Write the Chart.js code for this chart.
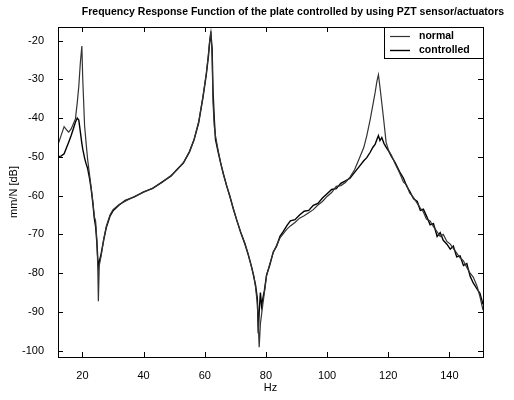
<!DOCTYPE html>
<html>
<head>
<meta charset="utf-8">
<script src="https://cdn.jsdelivr.net/npm/chart.js@4"></script>
<style>
  html, body { margin: 0; padding: 0; background: #fff; }
  #wrap { width: 514px; height: 400px; }
</style>
</head>
<body>
<div id="wrap"><canvas id="frfChart" width="514" height="400"></canvas></div>
<script>
// frequency (Hz)
const freq = [12, 13, 14, 15, 15.5, 16.3, 17, 17.7, 18.3, 18.8, 19.3, 19.8, 20.1, 20.7, 21.2, 21.7, 22.3, 22.8, 23.4, 23.9,
  24.3, 24.7, 25.0, 25.2, 25.5, 26.1, 27, 27.8, 29, 30, 32, 34, 37, 40, 43, 46, 49, 51, 53, 55,
  56.5, 58, 59.4, 60.5, 61.2, 61.6, 62, 62.4, 62.7, 63.1, 63.5, 64.4, 65.2, 66.1, 67.2, 68.2, 69.3, 70.4, 71.7, 73.1,
  74.2, 75.3, 76, 76.6, 77.2, 77.5, 77.8, 78.2, 78.6, 79, 79.5, 80.2, 81.3, 82.4, 83.5, 84.6, 85.7, 86.8, 88, 89.5,
  91, 92.5, 94, 95.5, 97, 98.5, 100, 101.5, 103, 104.5, 106, 107.5, 109, 110.5, 112, 113, 114.1, 115, 115.7, 116.3,
  116.8, 117.3, 117.9, 118.6, 119.3, 120.2, 121, 122.3, 123.7, 125, 126, 127, 128.3, 129.5, 130.5, 131.5, 132.5, 133.7, 134.8, 136,
  137, 138, 139.2, 140.3, 141.3, 142.4, 143.5, 144.6, 145.7, 146.8, 147.8, 149, 150, 151];

// mm/N [dB]
const normal = [-46.8, -44.5, -42.2, -43.2, -43.6, -42.8, -41.5, -40.2, -36, -31.8, -25.8, -21.4, -30, -42, -46.5, -50.7, -54.5, -57.6, -61.5, -65.5,
  -66.5, -71.3, -78, -87.2, -78, -75.6, -71, -67.9, -65, -63.6, -62.3, -61.4, -60.2, -59.1, -58, -56.6, -54.8, -53.3, -51.5, -48.6,
  -45.5, -41, -34.5, -28.5, -23.5, -20, -17.6, -24, -36, -42, -44.5, -48.5, -51.5, -54.5, -57.5, -60.2, -63.2, -66.2, -69.2, -72.2,
  -75, -78.5, -80.5, -83.5, -88, -93, -99.1, -93, -90.5, -88, -85, -80.7, -77.5, -74.7, -72.8, -70.9, -69.8, -68.7, -67.8, -66.9,
  -65.8, -65.2, -64.4, -63.6, -62.4, -61.5, -60.2, -59.2, -57.6, -57.4, -56.6, -55.2, -53.3, -50.5, -47.6, -44.5, -40.4, -36.5, -33.5, -30.5,
  -28.8, -32, -36.1, -41, -46.2, -48.5, -49.5, -51.8, -54.1, -56.5, -57.2, -59.3, -60.5, -62, -63.2, -64.2, -66, -66.5, -68, -69.3,
  -70.5, -70, -71.8, -72.5, -73.6, -74.8, -76, -76.8, -78.5, -80, -81, -83.2, -86, -89.5];

const controlled = [-49.9, -49.8, -49.2, -47.2, -46.2, -44.5, -42.8, -41, -40, -40.5, -43.5, -46.5, -48, -50.3, -51.8, -53, -55.5, -58, -62, -66,
  -68, -72, -76, -78.5, -77, -75, -71.2, -68.2, -65.3, -63.9, -62.4, -61.2, -60.3, -59, -58.1, -56.5, -54.9, -53.2, -51.6, -48.7,
  -45.6, -41.2, -34.7, -28.8, -24, -20.5, -18.2, -22, -33, -40, -45.5, -48.8, -51.6, -54.4, -57.6, -60.1, -63.3, -66.1, -69.4, -72.4,
  -75.2, -78.3, -80.8, -83, -86.5, -95.5, -90, -85, -88.5, -86.5, -84.5, -80.5, -77.8, -74.5, -73, -70.5, -69.2, -67.8, -66.5, -66.2,
  -65, -64, -63.8, -62.5, -62, -60.6, -59.5, -58.4, -58.2, -56.8, -56.2, -55.5, -54, -52.5, -51, -50.2, -48.8, -47.5, -46.8, -45.5,
  -44.5, -45.8, -45, -46.5, -47.5, -48.6, -49.8, -51.5, -53.8, -55.5, -57.5, -58.8, -60.8, -61.5, -63.8, -63.5, -65.2, -67.5, -67.2, -70.5,
  -69.5, -71.5, -72.5, -73.8, -73, -75.8, -75.5, -78, -77.5, -80.8, -82.5, -84, -85.2, -88];

const xTicks = [20, 40, 60, 80, 100, 120, 140];
const yTicks = [-100, -90, -80, -70, -60, -50, -40, -30, -20];
const seriesNames = ["normal", "controlled"];

const FONT = "'Liberation Sans', Arial, Helvetica, sans-serif";

// box, inward ticks, title, axis labels, legend (MATLAB look)
const matlabFrame = {
    id: "matlabFrame",
    afterDraw(chart) {
        const ctx = chart.ctx;
        const a = chart.chartArea;
        const xs = chart.scales.x, ys = chart.scales.y;
        ctx.save();
        ctx.strokeStyle = "#000";
        ctx.lineWidth = 1;
        ctx.strokeRect(Math.round(a.left) + 0.5, Math.round(a.top) + 0.5,
            Math.round(a.right - a.left), Math.round(a.bottom - a.top));

        const tl = 5;
        ctx.beginPath();
        xTicks.forEach(v => {
            const px = Math.round(xs.getPixelForValue(v)) + 0.5;
            ctx.moveTo(px, a.bottom); ctx.lineTo(px, a.bottom - tl);
            ctx.moveTo(px, a.top); ctx.lineTo(px, a.top + tl);
        });
        yTicks.forEach(v => {
            const py = Math.round(ys.getPixelForValue(v)) + 0.5;
            ctx.moveTo(a.left, py); ctx.lineTo(a.left + tl, py);
            ctx.moveTo(a.right, py); ctx.lineTo(a.right - tl, py);
        });
        ctx.stroke();

        // title
        ctx.fillStyle = "#000";
        ctx.font = "bold 10.5px " + FONT;
        ctx.textAlign = "center";
        ctx.textBaseline = "middle";
        ctx.fillText("Frequency Response Function of the plate controlled by using PZT sensor/actuators", 293, 12);

        // axis labels
        ctx.font = "11px " + FONT;
        ctx.fillText("Hz", (a.left + a.right) / 2, 388);
        ctx.save();
        ctx.translate(14, (a.top + a.bottom) / 2);
        ctx.rotate(-Math.PI / 2);
        ctx.fillText("mm/N [dB]", 0, 0);
        ctx.restore();

        // legend
        const lx = 384, ly = Math.round(a.top) + 0.5, lw = Math.round(a.right) - 384, lh = 31;
        ctx.fillStyle = "#fff";
        ctx.fillRect(lx, ly, lw, lh);
        ctx.strokeStyle = "#000";
        ctx.lineWidth = 1;
        ctx.strokeRect(lx + 0.5, ly, lw, lh);
        ctx.textAlign = "left";
        ctx.font = "bold 10.5px " + FONT;
        chart.data.datasets.forEach((ds, i) => {
            const yy = ly + 9 + i * 14;
            ctx.strokeStyle = ds.borderColor;
            ctx.lineWidth = ds.borderWidth;
            ctx.beginPath();
            ctx.moveTo(390, yy); ctx.lineTo(410, yy);
            ctx.stroke();
            ctx.fillStyle = "#000";
            ctx.fillText(ds.label, 419, yy);
        });
        ctx.restore();
    }
};

new Chart(document.getElementById("frfChart"), {
    type: "line",
    data: {
        datasets: [{
            label: seriesNames[0],
            data: freq.map((f, i) => ({ x: f, y: normal[i] })),
            borderColor: "#333",
            borderWidth: 1.2,
            pointRadius: 0,
            tension: 0
        }, {
            label: seriesNames[1],
            data: freq.map((f, i) => ({ x: f, y: controlled[i] })),
            borderColor: "#000",
            borderWidth: 1.4,
            pointRadius: 0,
            tension: 0
        }]
    },
    options: {
        responsive: false,
        animation: false,
        layout: { padding: { left: 0, top: 27, right: 31, bottom: 0 } },
        plugins: {
            legend: { display: false },
            title: { display: false },
            tooltip: { enabled: false }
        },
        scales: {
            x: {
                type: "linear",
                min: 12,
                max: 151,
                grid: { display: false },
                border: { display: false },
                afterBuildTicks: s => { s.ticks = xTicks.map(v => ({ value: v })); },
                afterFit: s => { s.height = 43; },
                ticks: { color: "#000", padding: 4, maxRotation: 0, font: { family: FONT, size: 11 } }
            },
            y: {
                type: "linear",
                min: -101.6,
                max: -16.5,
                grid: { display: false },
                border: { display: false },
                afterBuildTicks: s => { s.ticks = yTicks.map(v => ({ value: v })); },
                afterFit: s => { s.width = 58; },
                ticks: { color: "#000", padding: 6, font: { family: FONT, size: 11 } }
            }
        }
    },
    plugins: [matlabFrame]
});
</script>
</body>
</html>
